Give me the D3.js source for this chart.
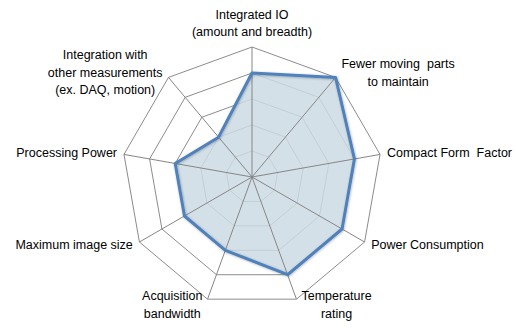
<!DOCTYPE html>
<html>
<head>
<meta charset="utf-8">
<script src="https://cdn.jsdelivr.net/npm/d3@7"></script>
<style>
  html, body { margin: 0; padding: 0; background: #fff; }
  svg { display: block; }
  text { font-family: "Liberation Sans", Arial, sans-serif; font-size: 12.5px; fill: #000; white-space: pre; }
</style>
</head>
<body>
<svg id="chart" width="516" height="331"></svg>
<script>
// Radar chart: smart camera capability ratings
const categories = [
  ["Integrated IO", "(amount and breadth)"],
  ["Fewer moving  parts", "to maintain"],
  ["Compact Form  Factor"],
  ["Power Consumption"],
  ["Temperature", "rating"],
  ["Acquisition", "bandwidth"],
  ["Maximum image size"],
  ["Processing Power"],
  ["Integration with", "other measurements", "(ex. DAQ, motion)"]
];
const values = [4, 5, 4, 4, 4, 3, 3, 3, 2];
const ringLevels = [1, 2, 3, 4, 5];

const svg = d3.select("#chart");
const cx = 252, cy = 177, R = 130;
const n = categories.length;

const r = d3.scaleLinear().domain([0, 5]).range([0, R]);
const angle = d3.scaleLinear().domain([0, n]).range([0, 2 * Math.PI]);
const pt = (i, v) => [cx + r(v) * Math.sin(angle(i)), cy - r(v) * Math.cos(angle(i))];

const g = svg.append("g");
const line = d3.line().curve(d3.curveLinearClosed);

// rings
g.selectAll("path.ring").data(ringLevels).join("path")
  .attr("class", "ring")
  .attr("d", lv => line(d3.range(n).map(i => pt(i, lv))))
  .attr("fill", "none")
  .attr("stroke", "#8c8c8c")
  .attr("stroke-width", 1);

// shadow filter for the series line
const defs = svg.append("defs");
const f = defs.append("filter").attr("id", "soft").attr("x", "-10%").attr("y", "-10%").attr("width", "120%").attr("height", "120%");
f.append("feDropShadow").attr("dx", 0.6).attr("dy", 0.6).attr("stdDeviation", 0.9)
  .attr("flood-color", "#000").attr("flood-opacity", 0.3);

const dataPts = values.map((v, i) => pt(i, v));

// filled area
g.append("path")
  .attr("d", line(dataPts))
  .attr("fill", "rgb(205,219,228)")
  .attr("fill-opacity", 0.85);

// spokes
g.selectAll("line.spoke").data(d3.range(n)).join("line")
  .attr("class", "spoke")
  .attr("x1", cx).attr("y1", cy)
  .attr("x2", i => pt(i, 5)[0]).attr("y2", i => pt(i, 5)[1])
  .attr("stroke", "#868686")
  .attr("stroke-width", 1);

// series outline
g.append("path")
  .attr("d", line(dataPts))
  .attr("fill", "none")
  .attr("stroke", "#4f81bd")
  .attr("stroke-width", 3)
  .attr("stroke-linejoin", "round")
  .attr("filter", "url(#soft)");

// category labels
const lh = 17.5;
categories.forEach((lines, i) => {
  const a = angle(i);
  const [vx, vy] = pt(i, 5);
  const t = g.append("g");
  const texts = lines.map((s, k) => t.append("text")
    .attr("text-anchor", "middle")
    .attr("dominant-baseline", "central")
    .text(s));
  const w = d3.max(texts, tx => tx.node().getComputedTextLength());
  const s = Math.sin(a), c = Math.cos(a);
  let bx, byCenter;
  if (Math.abs(s) < 1e-6) {
    bx = vx;
    byCenter = vy - 7 - (lines.length * lh) / 2 + 1;
  } else {
    const pad = 4 + 3 * Math.abs(s);
    bx = s > 0 ? vx + pad + w / 2 : vx - pad - w / 2;
    byCenter = vy - 6 * c;
  }
  texts.forEach((tx, k) => {
    tx.attr("x", bx).attr("y", byCenter + (k - (lines.length - 1) / 2) * lh);
  });
});
</script>
</body>
</html>
